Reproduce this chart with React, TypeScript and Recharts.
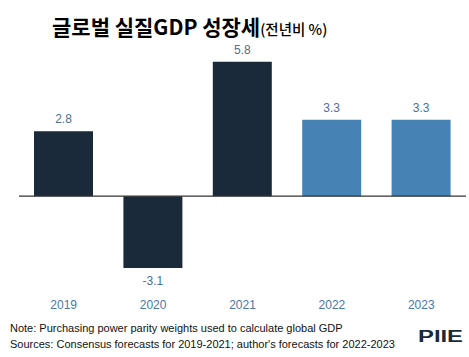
import React from "react";
import {
  BarChart,
  Bar,
  XAxis,
  YAxis,
  ReferenceLine,
  LabelList,
  Cell,
} from "recharts";

// 연도별 세계 실질 GDP 성장률 (%)
const years = ["2019", "2020", "2021", "2022", "2023"];
const growth = [2.8, -3.1, 5.8, 3.3, 3.3];
const isForecast = [false, false, false, true, true];

const DARK = "#1b2a3a";
const LIGHT = "#4682b4";

const data = years.map((y, i) => ({ year: y, value: growth[i], forecast: isForecast[i] }));

const ValueLabel = (props: any) => {
  const { x, y, width, height, value } = props;
  const top = Math.min(y, y + height);
  const bottom = Math.max(y, y + height);
  const cx = x + width / 2;
  const ty = value >= 0 ? top - 8 : bottom + 17;
  return (
    <text
      x={cx}
      y={ty}
      textAnchor="middle"
      fontSize={12}
      fill="#4d6f94"
      fontFamily="'Liberation Sans', Arial, sans-serif"
    >
      {value.toFixed(1)}
    </text>
  );
};

export default function App() {
  return (
    <div
      style={{
        position: "absolute",
        left: 0,
        top: 0,
        width: 469,
        height: 357,
        background: "#fff",
        fontFamily: "'Liberation Sans', Arial, sans-serif",
      }}
    >
      <div
        style={{
          position: "absolute",
          left: 52,
          top: 14,
          lineHeight: "25px",
          whiteSpace: "nowrap",
          color: "#000",
          fontFamily: "'Noto Sans CJK KR', sans-serif",
        }}
      >
        <span style={{ fontSize: 21, fontWeight: 700 }}>글로벌 실질GDP 성장세</span>
        <span style={{ fontSize: 14.5, fontWeight: 500 }}>(전년비 %)</span>
      </div>

      <div style={{ position: "absolute", left: 0, top: 0 }}>
        <BarChart
          width={469}
          height={357}
          data={data}
          margin={{ top: 57, right: 3, bottom: 38, left: 19 }}
          barSize={59}
        >
          <YAxis hide domain={[-4, 6]} />
          <XAxis
            dataKey="year"
            axisLine={false}
            tickLine={false}
            height={30}
            tickMargin={5}
            tick={{ fontSize: 12, fill: "#4a76a8" }}
          />
          <Bar dataKey="value" isAnimationActive={false}>
            {data.map((d, i) => (
              <Cell key={i} fill={d.forecast ? LIGHT : DARK} />
            ))}
            <LabelList dataKey="value" content={ValueLabel} />
          </Bar>
          <ReferenceLine y={0} stroke="#333" strokeWidth={1.2} />
        </BarChart>
      </div>

      <div
        style={{
          position: "absolute",
          left: 10,
          top: 320,
          fontSize: 11,
          lineHeight: "16px",
          color: "#111",
          whiteSpace: "nowrap",
        }}
      >
        <div>Note: Purchasing power parity weights used to calculate global GDP</div>
        <div>Sources: Consensus forecasts for 2019-2021; author's forecasts for 2022-2023</div>
      </div>

      <svg
        style={{ position: "absolute", left: 417, top: 328 }}
        width={48}
        height={16}
      >
        <text
          x={1}
          y={14}
          fontSize={16}
          fontWeight={700}
          fill={DARK}
          textLength={45}
          lengthAdjust="spacingAndGlyphs"
          fontFamily="'Liberation Sans', Arial, sans-serif"
        >
          PIIE
        </text>
      </svg>
    </div>
  );
}
